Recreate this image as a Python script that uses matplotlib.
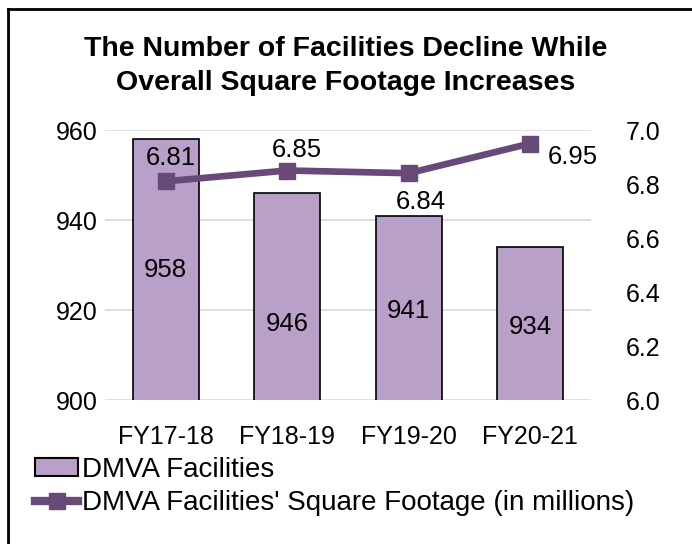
import matplotlib.pyplot as plt
from matplotlib.lines import Line2D
from matplotlib.patches import Patch

# chart data
years = ["FY17-18", "FY18-19", "FY19-20", "FY20-21"]
facilities = [958, 946, 941, 934]
sq_footage = [6.81, 6.85, 6.84, 6.95]

bar_color = "#b9a0c8"
line_color = "#684a78"
grid_color = "#d9d9d9"

plt.rcParams["font.family"] = ["Liberation Sans", "DejaVu Sans"]

fig = plt.figure(figsize=(6.92, 5.44), dpi=100)
ax = fig.add_axes([105 / 692, 1 - 400 / 544, 486 / 692, 270 / 544])
ax2 = ax.twinx()

x = list(range(len(years)))
ax.bar(x, facilities, width=0.54, color=bar_color, edgecolor="black",
       linewidth=1.2, zorder=2)
ax.set_ylim(900, 960)
ax.set_yticks([900, 920, 940, 960])
ax.set_xlim(-0.5, 3.5)
ax.set_xticks(x)
ax.set_xticklabels(years)
ax.yaxis.grid(True, color=grid_color, linewidth=1.2, zorder=0)
ax.set_axisbelow(True)

ax2.plot(x, sq_footage, color=line_color, linewidth=4.8, marker="s",
         markersize=11, zorder=3)
ax2.set_ylim(6.0, 7.0)
ax2.set_yticks([6.0, 6.2, 6.4, 6.6, 6.8, 7.0])
ax2.set_yticklabels([f"{v:.1f}" for v in ax2.get_yticks()])

for a in (ax, ax2):
    for s in a.spines.values():
        s.set_visible(False)
    a.tick_params(length=0, labelsize=18)
ax.tick_params(axis="y", pad=5)
ax.tick_params(axis="x", pad=18)
ax2.tick_params(axis="y", pad=25)

# bar value labels, hand placed like the original
bar_label_y = [0.48, 0.28, 0.33, 0.27]
for i, v in enumerate(facilities):
    ax.text(i, bar_label_y[i], str(v), transform=ax.get_xaxis_transform(),
            ha="center", va="center", fontsize=18.5, zorder=4)

# line value labels, offset in points from each marker
line_label_offsets = [(4, 17), (7, 15), (9, -21), (31, -10)]
for i, v in enumerate(sq_footage):
    ax2.annotate(f"{v:.2f}", (i, v), xytext=line_label_offsets[i],
                 textcoords="offset points", ha="center", va="center",
                 fontsize=18.5, zorder=5)

fig.text(0.5, 1 - 66 / 544,
         "The Number of Facilities Decline While\nOverall Square Footage Increases",
         ha="center", va="center", fontsize=20.5, fontweight="bold",
         linespacing=1.45)

handles = [
    Patch(facecolor=bar_color, edgecolor="black", linewidth=1.5),
    Line2D([0], [0], color=line_color, linewidth=6, marker="s", markersize=11),
]
fig.legend(handles, ["DMVA Facilities",
                     "DMVA Facilities' Square Footage (in millions)"],
           loc="upper left", bbox_to_anchor=(35 / 692, 1 - 457 / 544),
           frameon=False, fontsize=20, handlelength=1.55, handleheight=0.6,
           handletextpad=0.15, labelspacing=0.27, borderaxespad=0,
           borderpad=0)

# partial frame around the chart, as cropped in the original
fig.add_artist(Line2D([8 / 692, 1], [1 - 9 / 544, 1 - 9 / 544],
                      transform=fig.transFigure, color="black", linewidth=2))
fig.add_artist(Line2D([8 / 692, 8 / 692], [0, 1 - 9 / 544],
                      transform=fig.transFigure, color="black", linewidth=2))

fig.savefig("out.png", dpi=100)
